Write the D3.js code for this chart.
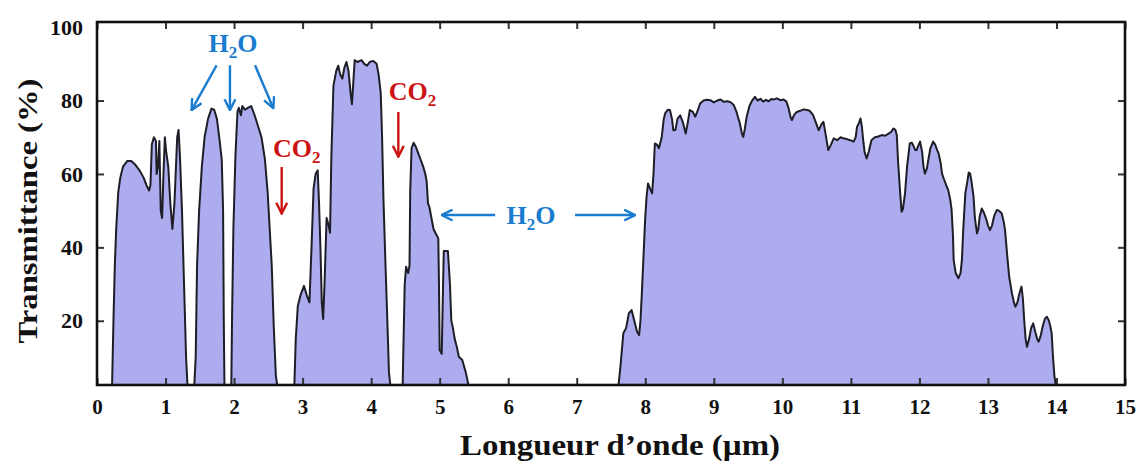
<!DOCTYPE html>
<html>
<head>
<meta charset="utf-8">
<script src="https://cdn.jsdelivr.net/npm/d3@7"></script>
<style>
  html, body { margin: 0; padding: 0; background: #fff; }
  svg { display: block; }
  text { font-family: "Liberation Serif", "Times New Roman", serif; font-weight: bold; }
</style>
</head>
<body>
<svg id="chart" width="1144" height="465"></svg>
<script>
// ---- Data ----
const wavelength = [
  0.00,0.22,0.24,0.26,0.28,0.31,0.34,0.38,0.44,0.50,0.56,0.62,0.68,0.72,0.76,0.78,0.80,0.83,0.86,0.87,0.89,0.91,0.93,0.95,0.97,0.99,1.01,1.04,1.07,1.10,1.13,1.17,1.19,1.21,1.24,1.27,1.30,1.32,
  1.42,1.44,1.46,1.49,1.53,1.57,1.62,1.67,1.71,1.75,1.79,1.82,1.84,1.85,1.86,
  1.96,1.97,1.99,2.02,2.05,2.07,2.10,2.12,2.16,2.20,2.25,2.30,2.35,2.40,2.45,2.49,2.52,2.55,2.58,2.61,2.63,
  2.88,2.90,2.93,2.97,3.02,3.06,3.10,3.13,3.16,3.19,3.22,3.24,3.26,3.28,3.30,3.32,3.35,3.38,3.40,3.42,3.45,3.49,3.52,3.55,3.58,3.61,3.64,3.67,3.70,3.72,3.74,3.76,3.80,3.86,3.90,3.94,3.98,4.03,4.08,4.11,4.14,4.16,4.18,4.21,4.24,4.26,4.28,
  4.46,4.47,4.49,4.51,4.54,4.56,4.57,4.59,4.62,4.65,4.68,4.72,4.76,4.79,4.81,4.83,4.85,4.88,4.91,4.95,4.98,4.99,5.00,5.03,5.05,5.06,5.12,5.15,5.17,5.19,5.22,5.25,5.28,5.33,5.38,5.42,5.44,
  7.58,7.61,7.64,7.68,7.72,7.76,7.80,7.84,7.88,7.91,7.93,7.95,7.98,8.00,8.02,8.04,8.07,8.10,8.12,8.14,8.17,8.20,8.24,8.27,8.29,8.33,8.36,8.39,8.41,8.44,8.47,8.51,8.55,8.59,8.62,8.65,8.69,8.73,8.77,8.80,8.85,8.90,8.95,9.00,9.05,9.10,9.14,9.20,9.25,9.29,9.33,9.36,9.38,9.41,9.43,9.45,9.48,9.52,9.56,9.60,9.64,9.68,9.72,9.76,9.80,9.84,9.88,9.92,9.97,10.02,10.06,10.09,10.12,10.14,10.17,10.21,10.26,10.31,10.36,10.40,10.45,10.49,10.53,10.57,10.60,10.63,10.67,10.71,10.75,10.80,10.85,10.89,10.94,10.99,11.04,11.07,11.09,11.12,11.14,11.16,11.18,11.20,11.23,11.26,11.30,11.35,11.40,11.45,11.50,11.55,11.59,11.62,11.65,11.67,11.69,11.72,11.74,11.76,11.79,11.82,11.86,11.89,11.91,11.94,11.96,11.99,12.01,12.04,12.06,12.08,12.11,12.13,12.16,12.20,12.23,12.26,12.28,12.31,12.33,12.36,12.39,12.42,12.45,12.47,12.49,12.50,12.53,12.57,12.60,12.62,12.64,12.67,12.70,12.72,12.74,12.76,12.79,12.81,12.84,12.86,12.88,12.91,12.94,12.96,12.98,13.00,13.03,13.06,13.09,13.13,13.16,13.20,13.23,13.25,13.28,13.31,13.35,13.38,13.40,13.43,13.46,13.49,13.51,13.53,13.55,13.57,13.60,13.63,13.66,13.69,13.72,13.74,13.77,13.80,13.83,13.86,13.89,13.91,13.93,13.95,13.97,13.99,14.00,15.00
];
const transmittance = [
  0,0,20,35,45,55,59,62,63.5,63.5,62.5,61,59,57,55.5,57,68,70,69,60,62,69,50,48,60,70,66,62,52,45,52,70,72,65,50,30,10,0,
  0,10,35,50,62,70,75,77.8,77.5,75,69,64,50,20,0,
  0,20,45,65,77,78,76,78.5,77.5,78,78.5,76,73,70,64,55,45,35,18,5,0,
  0,15,24,27,29.5,27,25,40,56,60,61,52,40,25,20.5,30,48,46,44,65,84,88,89.5,87,86,89,90.5,88,82,79,85,91,90.5,91,90,89.5,90.5,90.8,90,87,82,70,53,35,18,6,0,
  0,12,30,34.7,33,35,55,67,68.5,67.5,66,64,62,60,58,52,51,48,45,43.5,42.5,30,12,11,30,39,39,30,20,18.4,15,12.9,10.2,9.3,6,2,0,
  0,2,8,16.6,18,22,22.9,20,17,16.1,20,27.5,40,48.3,54,57.4,56,54.7,60,68.3,68,67,70,75,76.5,77.5,77.4,75,71.9,72,75,76,74,71,74,77.4,77,75.6,77.5,79.2,80,80.2,80.1,79.5,80,80.3,79.7,79.8,79.5,78.8,77,75,73.8,71,70.1,72,75.6,78.5,80,81,80,80.5,79.7,80.2,79.8,80.4,80.3,80.6,80.1,80.3,79.7,78,75.5,74.7,76,76.9,77.2,77.6,77.4,77.2,76,74,71.9,73.5,74.2,71,66.5,68,69.7,69.2,70,69.7,69.5,69.2,68.8,70,72.8,74,75.1,73,69.2,66,64.2,66,69.2,70,70.2,70.6,70.4,71,71.5,72.4,72,70.6,63,54.7,49.7,50.5,54.7,62,68.3,68.5,67.8,66.5,66.5,68,68.8,66,62,60.1,61.5,63.8,67,68.8,68,66.5,65.6,63,60.1,58.5,57,55.6,53,50.2,43,36.5,33,31.6,33,36.5,45,54.7,58,60.4,60.1,58,53.8,48,43.8,45,48.5,50.6,49.5,48.5,47.4,46,44.7,46,48.5,50.2,50,49.3,47,44.7,38,32,27.5,25,23.8,25,27.5,29.3,26,20,15,12.9,15,18,19.3,17,15,14.3,16,18.5,20.5,21.1,20,18.5,16.6,10,5,2,0,0
];
const xTicks = [0,1,2,3,4,5,6,7,8,9,10,11,12,13,14,15];
const yTicks = [20,40,60,80,100];

// annotations (data coordinates)
const labelTexts   = ["H", "CO", "CO", "H"];
const labelSubs    = ["2", "2", "2", "2"];
const labelTails   = ["O", "", "", "O"];
const labelX       = [1.985, 2.914, 4.604, 6.333];
const labelY       = [93.3, 64.7, 80.1, 46.5];
const labelColors  = ["#1a7ccf", "#cc1414", "#cc1414", "#1a7ccf"];
const arrowX1 = [1.745, 1.94, 2.306, 2.695, 4.397, 5.81, 6.975];
const arrowY1 = [89.6, 89.6, 89.6, 61.9, 76.9, 48.8, 48.8];
const arrowX2 = [1.38, 1.94, 2.573, 2.695, 4.397, 5.03, 7.85];
const arrowY2 = [77.4, 77.4, 77.9, 49.2, 64.7, 48.8, 48.8];
const arrowColors = ["#1a7ccf","#1a7ccf","#1a7ccf","#cc1414","#cc1414","#1a7ccf","#1a7ccf"];

// ---- Chart ----
const svg = d3.select("#chart");
const x = d3.scaleLinear().domain([0, 15]).range([97, 1125]);
const y = d3.scaleLinear().domain([2.5, 101.4]).range([385, 22]).clamp(true);

const pts = wavelength.map((w, i) => ({ w, t: transmittance[i] }));

const area = d3.area().x(d => x(d.w)).y0(y(2.5)).y1(d => y(d.t));
const line = d3.line().x(d => x(d.w)).y(d => y(d.t));

svg.append("path").datum(pts).attr("d", area).attr("fill", "#acacee");
svg.append("path").datum(pts).attr("d", line)
  .attr("fill", "none").attr("stroke", "#1e1e28").attr("stroke-width", 2)
  .attr("stroke-linejoin", "round");

// axes with inner ticks on all sides
const tickStyle = g => {
  g.select(".domain").remove();
  g.selectAll(".tick line").attr("stroke", "#333").attr("stroke-width", 2);
  g.selectAll(".tick text").attr("fill", "#111")
    .style("font-family", "'Liberation Serif', 'Times New Roman', serif")
    .style("font-weight", "bold");
};
svg.append("g").attr("transform", `translate(0,${y.range()[0]})`)
  .call(d3.axisBottom(x).tickValues(xTicks).tickSize(-7).tickPadding(14).tickFormat(d3.format("d")))
  .call(tickStyle)
  .call(g => g.selectAll(".tick text").attr("font-size", 21));
svg.append("g").attr("transform", `translate(0,${y.range()[1]})`)
  .call(d3.axisTop(x).tickValues(xTicks).tickSize(-7).tickFormat(""))
  .call(tickStyle);
svg.append("g").attr("transform", `translate(${x.range()[0]},0)`)
  .call(d3.axisLeft(y).tickValues(yTicks).tickSize(-7).tickPadding(14).tickFormat(d3.format("d")))
  .call(tickStyle)
  .call(g => g.selectAll(".tick text").attr("font-size", 22))
  .call(g => g.selectAll(".tick").filter(d => d === 100).select("line").remove());
svg.append("g").attr("transform", `translate(${x.range()[1]},0)`)
  .call(d3.axisRight(y).tickValues(yTicks.filter(d => d < 100)).tickSize(-7).tickFormat(""))
  .call(tickStyle);

// frame
svg.append("rect")
  .attr("x", x.range()[0]).attr("y", y.range()[1])
  .attr("width", x.range()[1] - x.range()[0]).attr("height", y.range()[0] - y.range()[1])
  .attr("fill", "none").attr("stroke", "#111").attr("stroke-width", 2.6);

// axis titles
svg.append("text").attr("x", 620).attr("y", 455).attr("text-anchor", "middle")
  .attr("font-size", 29).attr("textLength", 320).attr("lengthAdjust", "spacingAndGlyphs")
  .attr("fill", "#111").text("Longueur d’onde (µm)");
svg.append("text").attr("transform", "translate(37,211) rotate(-90)").attr("text-anchor", "middle")
  .attr("font-size", 28).attr("textLength", 265).attr("lengthAdjust", "spacingAndGlyphs")
  .attr("fill", "#111").text("Transmittance (%)");

// arrow markers
const defs = svg.append("defs");
["#1a7ccf", "#cc1414"].forEach((c, i) => {
  defs.append("marker").attr("id", "arr" + i)
    .attr("viewBox", "0 0 12 12").attr("refX", 11).attr("refY", 6)
    .attr("markerWidth", 13).attr("markerHeight", 13).attr("markerUnits", "userSpaceOnUse")
    .attr("orient", "auto")
    .append("path").attr("d", "M1,1 L11,6 L1,11")
    .attr("fill", "none").attr("stroke", c).attr("stroke-width", 2.2);
});
arrowX1.forEach((_, i) => {
  svg.append("line")
    .attr("x1", x(arrowX1[i])).attr("y1", y(arrowY1[i]))
    .attr("x2", x(arrowX2[i])).attr("y2", y(arrowY2[i]))
    .attr("stroke", arrowColors[i]).attr("stroke-width", 2.4)
    .attr("marker-end", `url(#arr${arrowColors[i] === "#1a7ccf" ? 0 : 1})`);
});

// labels
labelTexts.forEach((t, i) => {
  const tx = svg.append("text").attr("x", x(labelX[i])).attr("y", y(labelY[i]))
    .attr("text-anchor", "middle").attr("font-size", 26).attr("fill", labelColors[i]);
  tx.append("tspan").text(t);
  tx.append("tspan").attr("font-size", 17).attr("dy", 6).text(labelSubs[i]);
  if (labelTails[i]) tx.append("tspan").attr("dy", -6).text(labelTails[i]);
});
</script>
</body>
</html>
